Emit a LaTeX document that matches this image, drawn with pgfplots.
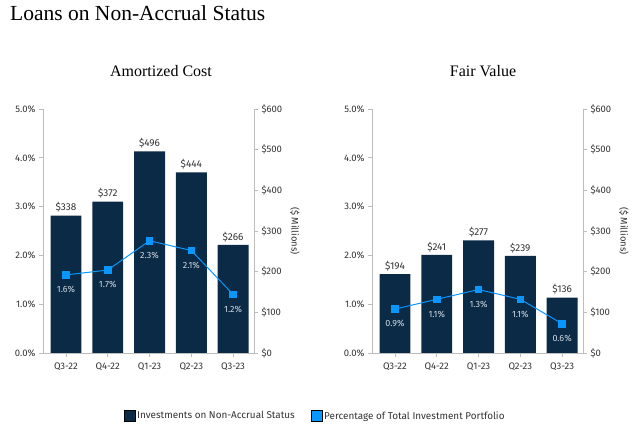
\documentclass[border=0pt]{standalone}
\usepackage{fontspec}
\setmainfont{Fira Sans}
\newfontfamily\titlefont{Liberation Serif}
\usepackage{pgfplots}
\pgfplotsset{compat=1.18}
\definecolor{navy}{HTML}{0B2A45}
\definecolor{lblue}{HTML}{0A96FF}
\definecolor{axgray}{HTML}{BDBDBD}
\definecolor{txt}{HTML}{333333}
\definecolor{pctlab}{HTML}{D0DAE4}
\newcommand{\tickfont}{\fontsize{9.5}{11}\selectfont}
\pgfplotsset{
  base/.style={scale only axis, width=211pt, height=244pt, xmin=-0.55, xmax=4.5,
    /pgf/number format/assume math mode=true,
    tick label style={font=\tickfont, text=txt},
    axis line style={axgray, line width=0.8pt, -},
    tick style={axgray, line width=0.8pt},
    tick align=outside, major tick length=4pt},
  money/.style={base, ymin=0, ymax=600, axis y line*=right, hide x axis,
    ytick={0,100,...,600}, yticklabel={\$\pgfmathprintnumber{\tick}},
    ylabel={(\$ Millions)},
    ylabel style={at={(axis description cs:1.194,0.5)}, anchor=center, rotate=180, font=\tickfont, text=txt}},
  pct/.style={base, ymin=0, ymax=5, axis y line*=left, axis x line*=bottom,
    ytick={0,1,...,5}, yticklabel={\pgfmathprintnumber[fixed,fixed zerofill,precision=1]{\tick}\%},
    xtick={0,1,2,3,4}, xticklabels={Q3-22,Q4-22,Q1-23,Q2-23,Q3-23},
    xticklabel style={yshift=-2pt}},
  barplot/.style={ybar, bar width=0.74, bar shift=0pt, fill=navy, draw=none,
    nodes near coords={\$\pgfmathprintnumber{\pgfplotspointmeta}},
    nodes near coords style={anchor=south, inner sep=0pt, yshift=3pt, font=\fontsize{10}{12}\selectfont, text=txt}},
  lineplot/.style={lblue, line width=1pt, mark=square*, mark size=3.3pt, mark options={fill=lblue, draw=lblue},
    nodes near coords={\pgfmathprintnumber[fixed,fixed zerofill,precision=1]{\pgfplotspointmeta}\%},
    nodes near coords style={anchor=north, inner sep=0pt, yshift=-11pt, font=\fontsize{9}{10}\selectfont, text=pctlab}},
}
\begin{document}
\begin{tikzpicture}
\path[use as bounding box] (0pt,0pt) rectangle (640pt,425pt);
\node[anchor=base west, inner sep=0pt, text=black] at (10pt,404pt) {\titlefont\fontsize{21.5}{24}\selectfont Loans on Non-Accrual Status};
\node[anchor=base, inner sep=0pt, text=black] at (161pt,348pt) {\titlefont\fontsize{16}{19}\selectfont Amortized Cost};
\node[anchor=base, inner sep=0pt, text=black] at (483pt,348pt) {\titlefont\fontsize{16}{19}\selectfont Fair Value};
% Left chart
\begin{axis}[money, at={(43pt,72pt)}, anchor=south west]
\addplot[barplot] coordinates {(0,338) (1,372) (2,496) (3,444) (4,266)};
\end{axis}
\begin{axis}[pct, at={(43pt,72pt)}, anchor=south west,
  legend columns=2,
  legend style={at={(1.29,-0.258)}, anchor=center, draw=none, fill=none, font=\fontsize{9.9}{11}\selectfont, text=txt,
    /tikz/every even column/.append style={column sep=14pt}},
  legend image code/.code={\fill[#1] (0pt,-5.5pt) rectangle (11pt,5.5pt);}]
\addplot[lineplot, forget plot] coordinates {(0,1.6) (1,1.7) (2,2.3) (3,2.1) (4,1.2)};
\addlegendimage{fill=navy}
\addlegendentry{Investments on Non-Accrual Status}
\addlegendimage{fill=lblue}
\addlegendentry{Percentage of Total Investment Portfolio}
\end{axis}
% Right chart
\begin{axis}[money, at={(372pt,72pt)}, anchor=south west]
\addplot[barplot] coordinates {(0,194) (1,241) (2,277) (3,239) (4,136)};
\end{axis}
\begin{axis}[pct, at={(372pt,72pt)}, anchor=south west]
\addplot[lineplot] coordinates {(0,0.9) (1,1.1) (2,1.3) (3,1.1) (4,0.6)};
\end{axis}
\end{tikzpicture}
\end{document}
